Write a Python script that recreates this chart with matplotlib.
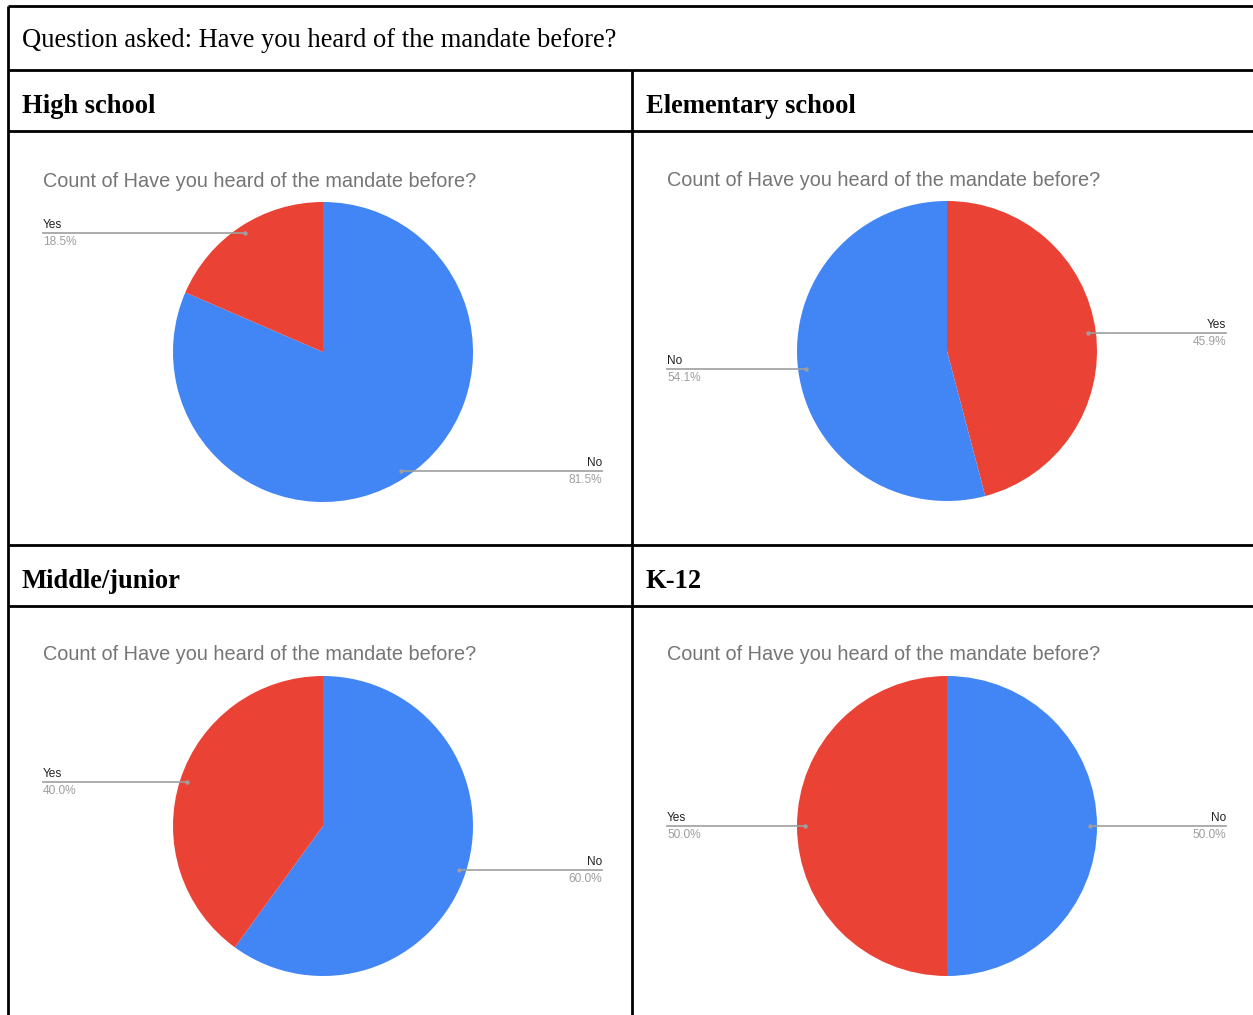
import numpy as np
import matplotlib.pyplot as plt

# ── data ─────────────────────────────────────────────────────────────────────
QUESTION = 'Question asked: Have you heard of the mandate before?'
CHART_TITLE = 'Count of Have you heard of the mandate before?'
GROUPS = ['High school', 'Elementary school', 'Middle/junior', 'K-12']

# slice order is clockwise from 12 o'clock, as the sheet exported it
hs_labels,   hs_values   = ['No', 'Yes'], [81.5, 18.5]
elem_labels, elem_values = ['Yes', 'No'], [45.9, 54.1]
mid_labels,  mid_values  = ['No', 'Yes'], [60.0, 40.0]
k12_labels,  k12_values  = ['No', 'Yes'], [50.0, 50.0]

SLICE_COLORS = {'No': '#4285F4', 'Yes': '#EA4335'}

# ── layout (pixels) ──────────────────────────────────────────────────────────
W, H = 1253, 1015
x_left, x_mid = 8, 632
y_top, y_q, y_row1, y_row2, y_row3 = 6, 70, 131, 545, 606
R = 150
cells = [  # (pie centre x, pie centre y, cell left x, cell header y)
    (323, 352, x_left, y_q),
    (947, 351, x_mid, y_q),
    (323, 826, x_left, y_row2),
    (947, 826, x_mid, y_row2),
]
datasets = [(hs_labels, hs_values), (elem_labels, elem_values),
            (mid_labels, mid_values), (k12_labels, k12_values)]

fig = plt.figure(figsize=(W / 100, H / 100), dpi=100)
ax = fig.add_axes([0, 0, 1, 1])
ax.set_xlim(0, W)
ax.set_ylim(0, H)
ax.axis('off')

Y = lambda y: H - y   # image rows -> data y

# ── table grid ───────────────────────────────────────────────────────────────
lw = 2.0
for y in (y_top, y_q, y_row1, y_row2, y_row3):
    ax.plot([x_left, W], [Y(y), Y(y)], color='black', lw=lw, solid_capstyle='butt')
ax.plot([x_left, x_left], [Y(y_top), 0], color='black', lw=lw, solid_capstyle='butt')
ax.plot([x_mid, x_mid], [Y(y_q), 0], color='black', lw=lw, solid_capstyle='butt')

ax.text(22, Y(40), QUESTION, fontsize=19.1, family='Liberation Serif',
        va='center', ha='left')

# ── pies ─────────────────────────────────────────────────────────────────────
for (cx, cy, cell_x, head_y), group, (labels, values) in zip(cells, GROUPS, datasets):
    ax.text(cell_x + 14, Y(head_y + 36), group, fontsize=19.1, weight='bold',
            family='Liberation Serif', va='center', ha='left')
    ax.text(cell_x + 35, Y(cy - 171), CHART_TITLE, fontsize=14.3,
            family='Liberation Sans', color='#757575', va='center', ha='left')

    wedges, _ = ax.pie(values, colors=[SLICE_COLORS[l] for l in labels],
                       startangle=90, counterclock=False, center=(cx, Y(cy)),
                       radius=R, frame=True, wedgeprops=dict(linewidth=0))

    for w, lab, val in zip(wedges, labels, values):
        ang = np.deg2rad((w.theta1 + w.theta2) / 2)
        px = cx + 0.95 * R * np.cos(ang)
        py = Y(cy) + 0.95 * R * np.sin(ang)
        if np.cos(ang) >= 0:
            x_end, ha = cell_x + 594, 'right'
        else:
            x_end, ha = cell_x + 35, 'left'
        ax.plot([px, x_end], [py, py], color='#9E9E9E', lw=1.2, zorder=3)
        ax.plot(px, py, 'o', ms=3.2, color='#9E9E9E', mec='none', zorder=4)
        ax.text(x_end, py + 2, lab, fontsize=8.6, family='Liberation Sans',
                color='#222222', ha=ha, va='bottom')
        ax.text(x_end, py - 3, f'{val:.1f}%', fontsize=8.6, family='Liberation Sans',
                color='#9E9E9E', ha=ha, va='top')

ax.set_xlim(0, W)
ax.set_ylim(0, H)
ax.set_aspect('auto')

fig.savefig('out.png', dpi=100)
